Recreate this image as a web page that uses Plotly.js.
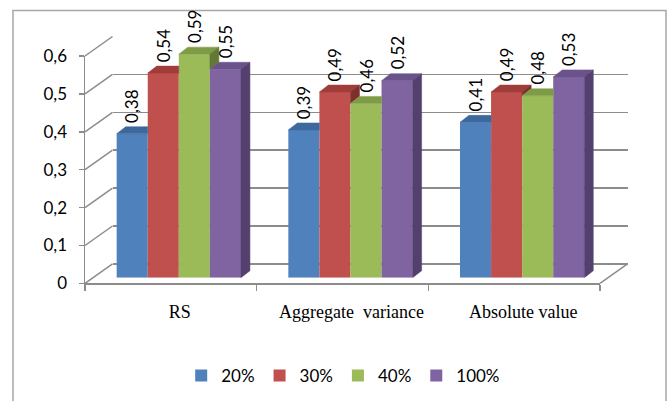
<!DOCTYPE html>
<html><head><meta charset="utf-8">
<script src="https://cdn.plot.ly/plotly-3.0.1.min.js"></script>
<style>html,body{margin:0;padding:0;background:#fff}#chart{width:669px;height:401px}</style>
</head><body><div id="chart"></div>
<script>
const categories = ['RS', 'Aggregate  variance', 'Absolute value'];
const seriesNames = ['20%', '30%', '40%', '100%'];
const values20 = [0.38, 0.39, 0.41];
const values30 = [0.54, 0.49, 0.49];
const values40 = [0.59, 0.46, 0.48];
const values100 = [0.55, 0.52, 0.53];
const yTicks = [0, 0.1, 0.2, 0.3, 0.4, 0.5, 0.6];

const series = [values20, values30, values40, values100];
const frontColors = ['#4F81BD', '#C0504D', '#9BBB59', '#8064A2'];
const topColors = ['#3C689E', '#A03D3A', '#7E9B46', '#6A538A'];
const sideColors = ['#2F5281', '#7E2F2D', '#627836', '#54406E'];
const gridColor = '#8C8C8C';

const W = 669, H = 401;
const frontL = 85, frontR = 600, frontY0 = 283.4, pxPerUnit = 379;
const yMax = 0.6;
const depthX = 27.5, depthY = 19.5;
const barT = 0.29;
const barDX = 9, barDY = 7;
const bargap = 0.276;

const pY = py => (H - py) / H;
const frontXDom = [frontL / W, frontR / W];
const frontYDom = [pY(frontY0), pY(frontY0 - yMax * pxPerUnit)];
const backXDom = [(frontL + depthX) / W, (frontR + depthX) / W];
const backYDom = [pY(frontY0 - depthY), pY(frontY0 - depthY - yMax * pxPerUnit)];
const barYMax = 0.7;
const bx = barT * depthX, by = barT * depthY;
const barXDom = [(frontL + bx) / W, (frontR + bx) / W];
const barYDom = [pY(frontY0 - by), pY(frontY0 - by - barYMax * pxPerUnit)];

const catPx = (frontR - frontL) / categories.length;
const dxU = barDX / catPx, dyU = barDY / pxPerUnit;
const bw = (1 - bargap) / series.length;
const xIdx = categories.map((c, i) => i);

const traces = [];
traces.push({type: 'scatter', x: [0], y: [0], xaxis: 'x', yaxis: 'y', mode: 'markers',
  marker: {opacity: 0}, showlegend: false, hoverinfo: 'skip'});
series.forEach((vals, s) => {
  traces.push({type: 'bar', name: seriesNames[s], x: xIdx, y: vals, xaxis: 'x2', yaxis: 'y2',
    marker: {color: frontColors[s], line: {width: 0}}, hoverinfo: 'skip'});
});
const annotations = [];
categories.forEach((c, k) => {
  series.forEach((vals, s) => {
    const v = vals[k];
    const xl = k - (1 - bargap) / 2 + bw * s;
    const xr = xl + bw;
    const hasNext = s < series.length - 1;
    const vn = hasNext ? series[s + 1][k] : null;
    let tx, ty;
    if (hasNext && vn > v) {
      tx = [xl, xr, xr, xl + dxU, xl];
      ty = [v, v, v + dyU, v + dyU, v];
    } else {
      tx = [xl, xr, xr + dxU, xl + dxU, xl];
      ty = [v, v, v + dyU, v + dyU, v];
    }
    traces.push({type: 'scatter', x: tx, y: ty, xaxis: 'x2', yaxis: 'y2', mode: 'lines',
      fill: 'toself', fillcolor: topColors[s], line: {color: topColors[s], width: 0.5},
      showlegend: false, hoverinfo: 'skip'});
    if (!hasNext || vn < v) {
      const lo = hasNext ? vn : 0;
      traces.push({type: 'scatter', x: [xr, xr, xr + dxU, xr + dxU, xr],
        y: [lo, v, v + dyU, lo + dyU, lo], xaxis: 'x2', yaxis: 'y2', mode: 'lines',
        fill: 'toself', fillcolor: sideColors[s], line: {color: sideColors[s], width: 0.5},
        showlegend: false, hoverinfo: 'skip'});
    }
    annotations.push({xref: 'x2', yref: 'y2', x: (xl + xr) / 2, y: v, yshift: 9,
      text: v.toFixed(2).replace('.', ','), textangle: -90, showarrow: false,
      xanchor: 'center', yanchor: 'bottom', font: {family: 'Lato', size: 17, color: '#000'}});
  });
});
traces.push({type: 'scatter', x: categories, y: categories.map(() => 0), xaxis: 'x3', yaxis: 'y3',
  mode: 'markers', marker: {opacity: 0}, showlegend: false, hoverinfo: 'skip'});

const shapes = [];
const fy = v => frontYDom[0] + v / yMax * (frontYDom[1] - frontYDom[0]);
const byy = v => backYDom[0] + v / yMax * (backYDom[1] - backYDom[0]);
yTicks.forEach(v => {
  shapes.push({type: 'line', xref: 'paper', yref: 'paper', x0: frontXDom[0], y0: fy(v),
    x1: backXDom[0], y1: byy(v), line: {color: gridColor, width: 1.5}, layer: 'below'});
});
shapes.push({type: 'line', xref: 'paper', yref: 'paper', x0: frontXDom[1], y0: fy(0),
  x1: backXDom[1], y1: byy(0), line: {color: gridColor, width: 1.5}, layer: 'below'});
shapes.push({type: 'rect', xref: 'paper', yref: 'paper', x0: 13 / W, x1: 666 / W, y0: -0.05, y1: pY(10.5),
  line: {color: '#A6A6A6', width: 1.5}, layer: 'below'});

const layout = {
  width: W, height: H, autosize: false,
  margin: {l: 0, r: 0, t: 0, b: 0},
  paper_bgcolor: '#fff', plot_bgcolor: 'rgba(0,0,0,0)',
  font: {family: 'Lato', size: 17, color: '#000'},
  separators: ', ',
  hovermode: false,
  barmode: 'group', bargap: bargap, bargroupgap: 0,
  xaxis: {domain: backXDom, range: [-0.5, 2.5], visible: false, anchor: 'y'},
  yaxis: {domain: backYDom, range: [0, yMax], anchor: 'x', tickvals: yTicks, showgrid: true,
    gridcolor: gridColor, gridwidth: 1.5, zeroline: true, zerolinecolor: gridColor, zerolinewidth: 1.5,
    showticklabels: false, ticks: '', showline: false},
  xaxis2: {domain: barXDom, range: [-0.5, 2.5], visible: false, anchor: 'y2', type: 'linear'},
  yaxis2: {domain: barYDom, range: [0, barYMax], visible: false, anchor: 'x2'},
  xaxis3: {domain: frontXDom, range: [-0.5, 2.5], type: 'category', anchor: 'y3',
    showline: true, linecolor: gridColor, linewidth: 1.5, showgrid: false, zeroline: false,
    ticks: 'outside', ticklen: 6, tickcolor: gridColor, tickwidth: 1.5, tickson: 'boundaries',
    ticklabelshift: 9, ticklabelstandoff: 11,
    tickfont: {family: 'Liberation Serif', size: 18, color: '#000'}},
  yaxis3: {domain: frontYDom, range: [0, yMax], anchor: 'x3', tickvals: yTicks,
    showline: true, linecolor: gridColor, linewidth: 1.5, showgrid: false, zeroline: false,
    ticks: 'outside', ticklen: 5, tickcolor: gridColor, tickwidth: 1.5, ticklabelstandoff: 8,
    tickfont: {family: 'Lato', size: 17, color: '#000'}},
  legend: {orientation: 'h', x: 0.513, xanchor: 'center', y: pY(376), yanchor: 'middle',
    font: {family: 'Lato', size: 17, color: '#000'}, bgcolor: 'rgba(0,0,0,0)', traceorder: 'normal'},
  annotations: annotations,
  shapes: shapes
};

Plotly.newPlot('chart', traces, layout, {staticPlot: true, displayModeBar: false});
</script>
</body></html>
